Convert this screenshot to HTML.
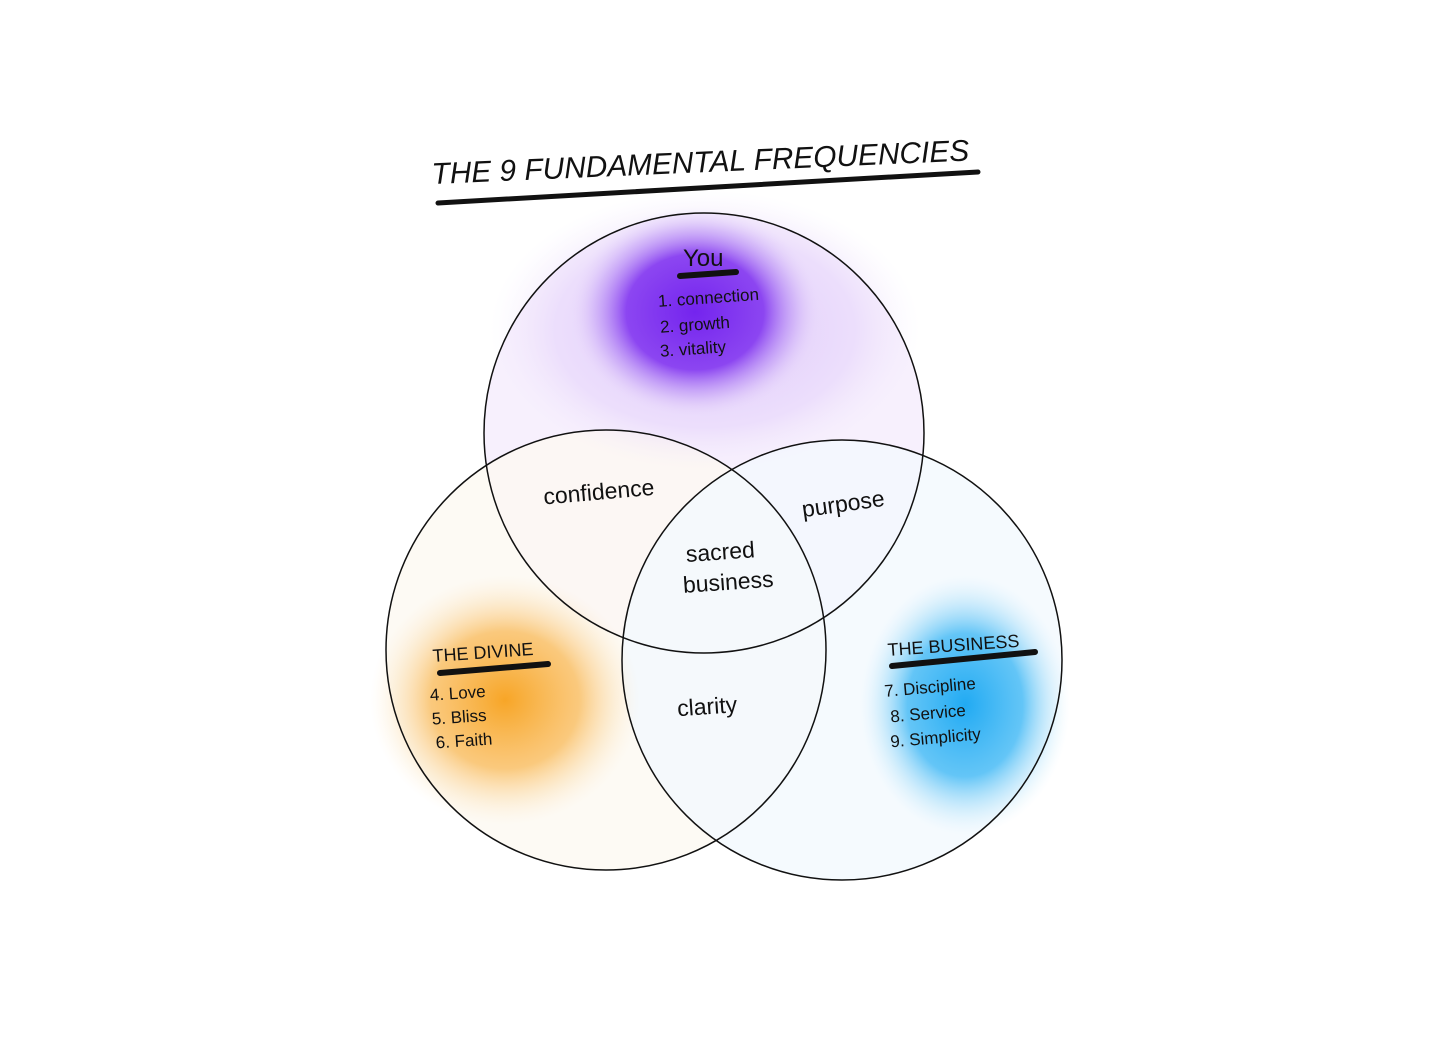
<!DOCTYPE html>
<html><head><meta charset="utf-8"><style>
html,body{margin:0;padding:0;background:#fff;}
svg{display:block;}
text{font-family:"Liberation Sans",sans-serif;fill:#111;}
</style></head><body>
<svg width="1456" height="1048" viewBox="0 0 1456 1048" xmlns="http://www.w3.org/2000/svg">
<defs>
<radialGradient id="gp" cx="0.5" cy="0.5" r="0.5">
<stop offset="0" stop-color="#7424ee" stop-opacity="1"/>
<stop offset="0.55" stop-color="#8236f0" stop-opacity="0.9"/>
<stop offset="0.8" stop-color="#b487f5" stop-opacity="0.4"/>
<stop offset="1" stop-color="#e8d8fb" stop-opacity="0"/>
</radialGradient>
<radialGradient id="gl" cx="0.5" cy="0.5" r="0.5">
<stop offset="0" stop-color="#c9a6f7" stop-opacity="0.6"/>
<stop offset="0.7" stop-color="#dcc4fa" stop-opacity="0.4"/>
<stop offset="1" stop-color="#efe4fd" stop-opacity="0"/>
</radialGradient>
<radialGradient id="go" cx="0.5" cy="0.5" r="0.5">
<stop offset="0" stop-color="#f7a11c" stop-opacity="0.95"/>
<stop offset="0.55" stop-color="#f9b44a" stop-opacity="0.7"/>
<stop offset="1" stop-color="#fde9c8" stop-opacity="0"/>
</radialGradient>
<radialGradient id="gb" cx="0.5" cy="0.5" r="0.5">
<stop offset="0" stop-color="#16a6f2" stop-opacity="0.95"/>
<stop offset="0.55" stop-color="#3fb8f5" stop-opacity="0.8"/>
<stop offset="1" stop-color="#cfeefc" stop-opacity="0"/>
</radialGradient>
</defs>
<circle cx="704" cy="433" r="220" fill="#f7f0fd"/>
<circle cx="606" cy="650" r="220" fill="#fdf9f1" fill-opacity="0.8"/>
<circle cx="842" cy="660" r="220" fill="#f2f9fe" fill-opacity="0.8"/>
<ellipse cx="705" cy="330" rx="215" ry="140" fill="url(#gl)"/>
<ellipse cx="695" cy="312" rx="125" ry="105" fill="url(#gp)"/>
<ellipse cx="505" cy="700" rx="135" ry="125" fill="url(#go)"/>
<ellipse cx="965" cy="705" rx="105" ry="130" fill="url(#gb)"/>
<circle cx="704" cy="433" r="220" fill="none" stroke="#111" stroke-width="1.5"/>
<circle cx="606" cy="650" r="220" fill="none" stroke="#111" stroke-width="1.5"/>
<circle cx="842" cy="660" r="220" fill="none" stroke="#111" stroke-width="1.5"/>
<text x="432" y="184" font-size="30" font-style="italic" textLength="538" lengthAdjust="spacingAndGlyphs" transform="rotate(-2.5 432 184)">THE 9 FUNDAMENTAL FREQUENCIES</text>
<line x1="438" y1="203" x2="978" y2="172" stroke="#111" stroke-width="5" stroke-linecap="round"/>
<text x="683" y="266" font-size="24">You</text>
<line x1="680" y1="276" x2="736" y2="272" stroke="#111" stroke-width="6" stroke-linecap="round"/>
<text x="658" y="304" font-size="17" transform="rotate(-4 700 300)">1. connection</text>
<text x="660" y="330" font-size="17" transform="rotate(-4 700 325)">2. growth</text>
<text x="660" y="354" font-size="17" transform="rotate(-4 700 350)">3. vitality</text>
<text x="433" y="662" font-size="18" transform="rotate(-4 433 662)">THE DIVINE</text>
<line x1="440" y1="673" x2="548" y2="664" stroke="#111" stroke-width="6" stroke-linecap="round"/>
<text x="430" y="698" font-size="17" transform="rotate(-4 470 695)">4. Love</text>
<text x="432" y="722" font-size="17" transform="rotate(-4 470 720)">5. Bliss</text>
<text x="436" y="746" font-size="17" transform="rotate(-4 470 745)">6. Faith</text>
<text x="888" y="656" font-size="18" transform="rotate(-4 888 656)">THE BUSINESS</text>
<line x1="892" y1="666" x2="1035" y2="652" stroke="#111" stroke-width="6" stroke-linecap="round"/>
<text x="884" y="692" font-size="17" transform="rotate(-5 940 685)">7. Discipline</text>
<text x="890" y="718" font-size="17" transform="rotate(-5 940 710)">8. Service</text>
<text x="890" y="743" font-size="17" transform="rotate(-5 940 735)">9. Simplicity</text>
<text x="543" y="500" font-size="23" transform="rotate(-5 595 490)">confidence</text>
<text x="801" y="512" font-size="23" transform="rotate(-8 840 500)">purpose</text>
<text x="686" y="560" font-size="23" transform="rotate(-4 715 555)">sacred</text>
<text x="683" y="590" font-size="23" transform="rotate(-4 725 585)">business</text>
<text x="677" y="714" font-size="23" transform="rotate(-4 710 705)">clarity</text>
</svg>
</body></html>
